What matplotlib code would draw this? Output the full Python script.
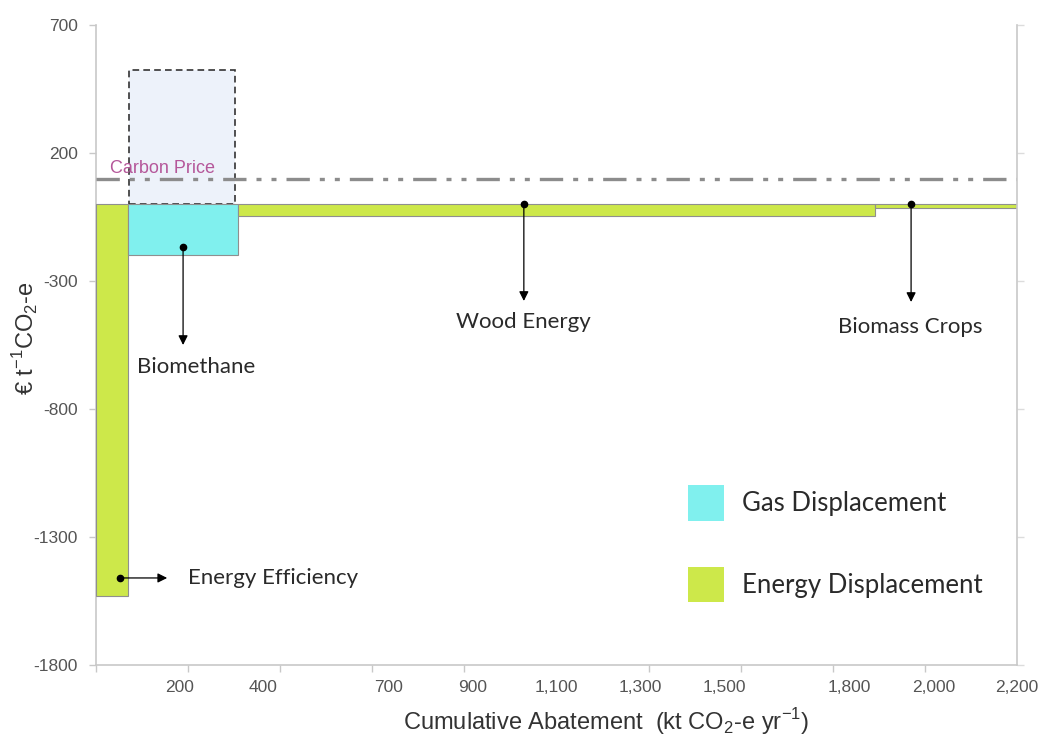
import matplotlib
matplotlib.use('Agg')
import matplotlib.pyplot as plt
from matplotlib.patches import Patch
from matplotlib.ticker import FixedLocator, NullFormatter

# ---------------- data ----------------
options = ['Energy Efficiency', 'Biomethane', 'Wood Energy', 'Biomass Crops']
abatement = [76, 263, 1522, 339]          # kt CO2-e / yr (bar widths)
cost = [-1530, -200, -45, -15]            # EUR / t CO2-e
category = ['Energy Displacement', 'Gas Displacement',
            'Energy Displacement', 'Energy Displacement']
biomethane_alt_cost = 525                 # dashed scenario box
carbon_price = 100
x_label_values = [200, 400, 700, 900, 1100, 1300, 1500, 1800, 2000, 2200]
y_ticks = [700, 200, -300, -800, -1300, -1800]

colors = {'Gas Displacement': '#80f0ee', 'Energy Displacement': '#cde84a'}

plt.rcParams['font.family'] = ['Liberation Sans', 'DejaVu Sans']
plt.rcParams['mathtext.fontset'] = 'custom'
plt.rcParams['mathtext.rm'] = 'Liberation Sans'
ANN = ['Lato', 'DejaVu Sans']

fig = plt.figure(figsize=(10.4, 7.4), dpi=100)
ax = fig.add_axes([96 / 1040, 75 / 740, 921 / 1040, 640 / 740])

lefts = []
acc = 0
for w in abatement:
    lefts.append(acc)
    acc += w

ax.bar(lefts, cost, width=abatement, align='edge',
       color=[colors[c] for c in category], edgecolor='#8f8f8f', linewidth=0.8, zorder=3)

# Biomethane dashed scenario box
bi = options.index('Biomethane')
ax.bar(lefts[bi] + 3, biomethane_alt_cost, width=abatement[bi] - 11, align='edge',
       color='#edf2fa', edgecolor='#333333', linewidth=1.2, linestyle=(0, (4, 2.5)), zorder=2)

# Carbon price line
ax.axhline(carbon_price, color='#8c8c8c', lw=2.4,
           dashes=[7, 3, 1.5, 3, 1.5, 3], zorder=4)
ax.text(33, carbon_price + 41, 'Carbon Price', color='#b5579a', fontsize=13,
        ha='left', va='center', zorder=5)

# Annotations
def ann(label, dot, end, text_xy, ha='center'):
    ax.plot(*dot, 'o', color='black', ms=4.5, zorder=6)
    ax.annotate('', xy=end, xytext=dot,
                arrowprops=dict(arrowstyle='-|>', color='black', lw=0.9,
                                mutation_scale=14, shrinkA=0, shrinkB=0), zorder=6)
    ax.text(*text_xy, label, family=ANN, fontsize=16, color='#2a2a2a',
            ha=ha, va='center', zorder=6)

ann('Biomethane', (208, -167), (208, -550), (240, -636))
ann('Wood Energy', (1022, 0), (1022, -378), (1020, -462))
ann('Biomass Crops', (1947, 0), (1947, -382), (1945, -478))
ann('Energy Efficiency', (57, -1460), (170, -1460), (220, -1460), ha='left')

# Axes formatting
ax.set_xlim(0, 2200)
ax.set_ylim(-1800, 700)
ax.set_yticks(y_ticks)
ax.set_yticklabels([str(v) for v in y_ticks])
ax.xaxis.set_major_locator(FixedLocator(x_label_values))
ax.set_xticklabels([f'{v:,}' for v in x_label_values])
ax.xaxis.set_minor_locator(FixedLocator([i * 220 for i in range(11)]))
ax.xaxis.set_minor_formatter(NullFormatter())
ax.tick_params(axis='x', which='major', length=0, pad=11, labelsize=12.5, labelcolor='#555555')
ax.tick_params(axis='x', which='minor', length=5, width=1, color='#c8c8c8')
ax.tick_params(axis='y', length=5, width=1, color='#c8c8c8', pad=8,
               labelsize=12.5, labelcolor='#555555')

for s in ['top', 'right']:
    ax.spines[s].set_visible(False)
for s in ['left', 'bottom']:
    ax.spines[s].set_color('#c8c8c8')
    ax.spines[s].set_linewidth(1.2)

ax2 = ax.twinx()
ax2.set_ylim(-1800, 700)
ax2.set_yticks(y_ticks)
ax2.set_yticklabels([])
ax2.tick_params(axis='y', length=5, width=1, color='#dcdcdc')
for s in ['top', 'left', 'bottom']:
    ax2.spines[s].set_visible(False)
ax2.spines['right'].set_color('#c8c8c8')
ax2.spines['right'].set_linewidth(1.2)

ax.set_xlabel(r'Cumulative Abatement  (kt CO$_{\mathregular{2}}$-e yr$^{\mathregular{-1}}$)',
              fontsize=17, color='#333333', va='center')
ax.xaxis.set_label_coords((606 - 96) / 921, (665 - 722) / 640)
ax.set_ylabel(r'€ t$^{\mathregular{-1}}$CO$_{\mathregular{2}}$-e', fontsize=17,
              color='#333333', va='center')
ax.yaxis.set_label_coords((26 - 96) / 921, (665 - 338) / 640)

handles = [Patch(facecolor=colors['Gas Displacement'], edgecolor='none'),
           Patch(facecolor=colors['Energy Displacement'], edgecolor='none')]
leg = ax.legend(handles, ['Gas Displacement', 'Energy Displacement'],
                loc='upper left', bbox_to_anchor=((688 - 96) / 921, (665 - 485) / 640),
                frameon=False, borderpad=0, borderaxespad=0,
                handlelength=1.4, handleheight=1.75, handletextpad=0.7,
                labelspacing=1.8, prop={'family': ANN, 'size': 18.5})
for t in leg.get_texts():
    t.set_color('#2a2a2a')

fig.savefig('out.png', dpi=100)
